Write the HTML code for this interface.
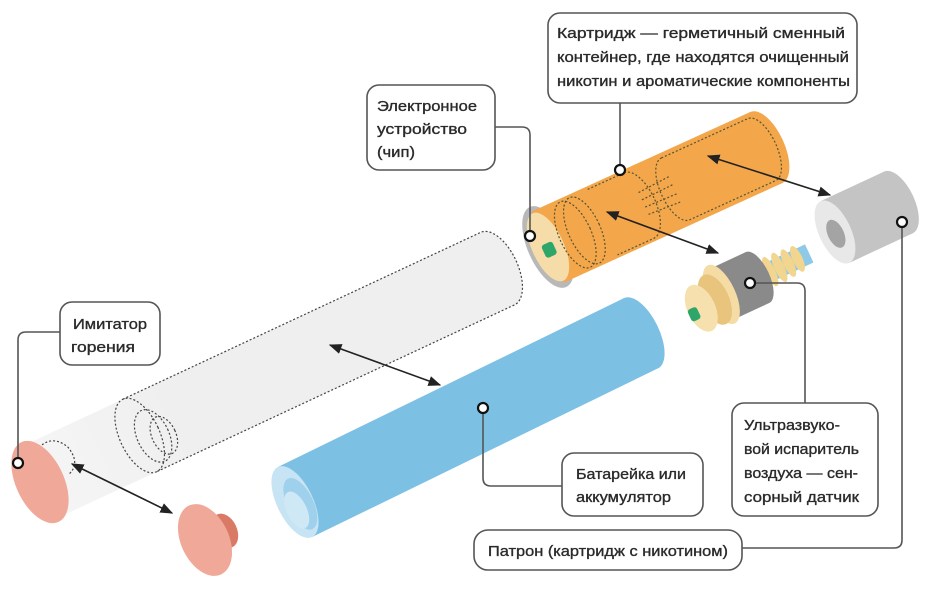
<!DOCTYPE html>
<html><head><meta charset="utf-8"><style>
html,body{margin:0;padding:0;background:#fff;}
svg{display:block;}
text{font-family:"Liberation Sans",sans-serif;font-size:15px;fill:#2a2a2a;stroke:#2a2a2a;stroke-width:0.35;}
</style></head><body>
<svg width="939" height="608" viewBox="0 0 939 608" xmlns="http://www.w3.org/2000/svg">
<defs>
<linearGradient id="fade" x1="0" y1="0" x2="1" y2="0">
<stop offset="0" stop-color="#efefef" stop-opacity="0.6"/><stop offset="0.3" stop-color="#efefef"/><stop offset="1" stop-color="#efefef"/>
</linearGradient>
<marker id="ah" viewBox="0 0 10 10" refX="9" refY="5" markerWidth="8" markerHeight="8" orient="auto-start-reverse"><path d="M0,1 L10,5 L0,9 z" fill="#222"/></marker>
</defs>

<!-- white cylinder -->
<g transform="translate(40,482) rotate(-25)">
<rect x="0" y="-40" width="505" height="80" fill="url(#fade)"/>
<ellipse cx="505" cy="0" rx="20" ry="40" fill="#efefef"/>
<path d="M110,-40 L505,-40 A20,40 0 0 1 505,40 L110,40" fill="none" stroke="#444" stroke-width="1.2" stroke-dasharray="2,2"/>
<ellipse cx="110" cy="0" rx="20" ry="40" fill="none" stroke="#444" stroke-width="1.2" stroke-dasharray="2,2"/>
<ellipse cx="122" cy="6" rx="16" ry="28" fill="none" stroke="#444" stroke-width="1.2" stroke-dasharray="2,2"/>
<ellipse cx="132" cy="10" rx="12" ry="20" fill="none" stroke="#444" stroke-width="1.2" stroke-dasharray="2,2"/>
<path d="M10,-30 Q30,-40 40,-20 Q45,0 30,5" fill="none" stroke="#444" stroke-width="1.2" stroke-dasharray="2,2"/>
<ellipse cx="0" cy="0" rx="24" ry="44" fill="#f0a898"/>
</g>
<!-- pink cap -->
<g transform="translate(205,540) rotate(-25)">
<ellipse cx="22" cy="0" rx="12" ry="18" fill="#d97a66"/>
<rect x="5" y="-18" width="17" height="36" fill="#d97a66"/>
<ellipse cx="0" cy="0" rx="24" ry="38" fill="#f0a898"/>
</g>

<!-- blue cylinder -->
<g transform="translate(295,502) rotate(-26)">
<rect x="0" y="-39" width="385" height="78" fill="#7cc0e4"/>
<ellipse cx="385" cy="0" rx="18" ry="39" fill="#7cc0e4"/>
<ellipse cx="0" cy="0" rx="18" ry="39" fill="#c6e4f4"/>
<ellipse cx="4" cy="4" rx="13" ry="28" fill="#9fd0ec"/>
<ellipse cx="-2" cy="8" rx="10" ry="20" fill="#cfe8f6"/>
</g>

<!-- orange cartridge -->
<g transform="translate(548,247) rotate(-24.5)">
<ellipse cx="0" cy="0" rx="20" ry="44" fill="#b8b8b8"/>
<rect x="0" y="-39" width="240" height="78" fill="#f4a64a"/>
<ellipse cx="240" cy="0" rx="18" ry="39" fill="#f4a64a"/>
<ellipse cx="0" cy="0" rx="16" ry="37" fill="#f6dca8"/>
<g fill="none" stroke="#553" stroke-width="1.2" stroke-dasharray="2,2">
<ellipse cx="30" cy="0" rx="16" ry="36"/>
<ellipse cx="40" cy="0" rx="16" ry="36"/>
<path d="M60,-36 L100,-36 A14,30 0 0 1 100,36 L60,36"/>
<path d="M140,-34 L235,-34 A15,34 0 0 1 235,34 L140,34 A15,34 0 0 1 140,-34"/>
<path d="M105,-12 L140,-14 M105,-4 L140,-5 M105,4 L140,5 M105,12 L140,14"/>
</g>
<rect x="-6" y="-4" width="12" height="14" rx="3" fill="#2ea66a"/>
</g>

<!-- gray cap -->
<g transform="translate(835,232) rotate(-25)">
<rect x="0" y="-34" width="70" height="68" fill="#c4c4c4"/>
<ellipse cx="70" cy="0" rx="16" ry="34" fill="#c4c4c4"/>
<ellipse cx="0" cy="0" rx="16" ry="34" fill="#e8e8e8"/>
<ellipse cx="0" cy="2" rx="8" ry="15" fill="#a4a4a4"/>
</g>

<!-- atomizer -->
<g transform="translate(705,302) rotate(-25)">
<rect x="60" y="-10" width="55" height="20" fill="#8ec9e6"/>
<g fill="#f2d58e"><ellipse cx="72" cy="0" rx="5" ry="16"/><ellipse cx="82" cy="0" rx="5" ry="16"/><ellipse cx="92" cy="0" rx="5" ry="15"/><ellipse cx="102" cy="0" rx="5" ry="14"/></g>
<rect x="18" y="-28" width="40" height="56" fill="#8a8a8a"/>
<ellipse cx="58" cy="0" rx="12" ry="28" fill="#8a8a8a"/>
<ellipse cx="18" cy="0" rx="14" ry="32" fill="#f5dca5"/>
<ellipse cx="10" cy="2" rx="14" ry="27" fill="#e8c47c"/>
<ellipse cx="-6" cy="4" rx="14" ry="25" fill="#f6e0ae"/>
<rect x="-20" y="0" width="10" height="13" rx="3" fill="#2ea66a"/>
</g>

<!-- arrows -->
<g stroke="#222" stroke-width="1.6" marker-start="url(#ah)" marker-end="url(#ah)">
<line x1="330" y1="345" x2="440" y2="385"/>
<line x1="708" y1="156" x2="830" y2="195"/>
<line x1="607" y1="212" x2="718" y2="253"/>
<line x1="72" y1="464" x2="172" y2="513"/>
</g>

<!-- leader lines -->
<g fill="none" stroke="#555" stroke-width="1.6">
<path d="M620,103 L620,170"/>
<path d="M495,127 L522,127 Q530,127 530,135 L530,236"/>
<path d="M60,332 L26,332 Q18,332 18,340 L18,463"/>
<path d="M483,408 L483,478 Q483,486 491,486 L562,486"/>
<path d="M750,283 L797,283 Q805,283 805,291 L805,403"/>
<path d="M902,222 L902,540 Q902,548 894,548 L742,548"/>
</g>
<g fill="#fff" stroke="#111" stroke-width="2.2">
<circle cx="620" cy="170" r="5"/><circle cx="530" cy="236" r="5"/><circle cx="18" cy="463" r="5"/>
<circle cx="483" cy="408" r="5"/><circle cx="750" cy="283" r="5"/><circle cx="902" cy="222" r="5"/>
</g>

<!-- boxes -->
<g fill="#fff" stroke="#555" stroke-width="1.6">
<rect x="548" y="13" width="309" height="90" rx="12"/>
<rect x="367" y="85" width="128" height="85" rx="12"/>
<rect x="60" y="302" width="100" height="63" rx="12"/>
<rect x="562" y="453" width="141" height="63" rx="12"/>
<rect x="732" y="403" width="146" height="113" rx="12"/>
<rect x="474" y="530" width="268" height="40" rx="14"/>
</g>
<text x="557" y="38" textLength="288" lengthAdjust="spacingAndGlyphs">Картридж — герметичный сменный</text>
<text x="557" y="62" textLength="292" lengthAdjust="spacingAndGlyphs">контейнер, где находятся очищенный</text>
<text x="557" y="86" textLength="293" lengthAdjust="spacingAndGlyphs">никотин и ароматические компоненты</text>
<text x="377" y="111" textLength="100" lengthAdjust="spacingAndGlyphs">Электронное</text>
<text x="377" y="134" textLength="90" lengthAdjust="spacingAndGlyphs">устройство</text>
<text x="377" y="157" textLength="38" lengthAdjust="spacingAndGlyphs">(чип)</text>
<text x="73" y="329" textLength="74" lengthAdjust="spacingAndGlyphs">Имитатор</text>
<text x="71" y="352" textLength="64" lengthAdjust="spacingAndGlyphs">горения</text>
<text x="576" y="479" textLength="110" lengthAdjust="spacingAndGlyphs">Батарейка или</text>
<text x="576" y="502" textLength="95" lengthAdjust="spacingAndGlyphs">аккумулятор</text>
<text x="744" y="430" textLength="96" lengthAdjust="spacingAndGlyphs">Ультразвуко-</text>
<text x="744" y="454" textLength="115" lengthAdjust="spacingAndGlyphs">вой испаритель</text>
<text x="744" y="478" textLength="114" lengthAdjust="spacingAndGlyphs">воздуха — сен-</text>
<text x="744" y="502" textLength="115" lengthAdjust="spacingAndGlyphs">сорный датчик</text>
<text x="488" y="556" textLength="240" lengthAdjust="spacingAndGlyphs">Патрон (картридж с никотином)</text>
</svg>
</body></html>
